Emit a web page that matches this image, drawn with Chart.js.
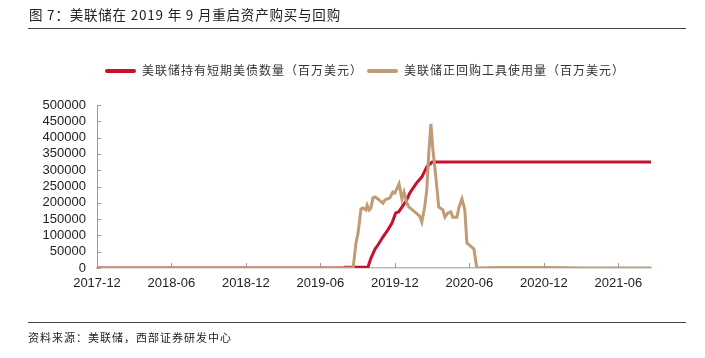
<!DOCTYPE html>
<html>
<head>
<meta charset="utf-8">
<script src="https://cdn.jsdelivr.net/npm/chart.js@4.4.1/dist/chart.umd.min.js"></script>
<style>
  html, body { margin:0; padding:0; background:#fff; }
  #wrap { position:relative; width:705px; height:358px; overflow:hidden; font-family:"Noto Sans CJK SC", sans-serif; }
  #title { position:absolute; left:29px; top:4px; font-size:13.5px; color:#222; white-space:nowrap; letter-spacing:0.8px; }
  .rule { position:absolute; left:28px; width:658px; height:0; border-top:1.5px solid #444; }
  #source { position:absolute; left:28px; top:329px; font-size:11px; color:#222; white-space:nowrap; letter-spacing:1px; }
  #legend { position:absolute; top:61px; left:0; width:705px; height:18px; }
  .li { position:absolute; top:0; white-space:nowrap; font-size:12px; color:#333; letter-spacing:1px; line-height:18px; }
  .sw { display:inline-block; width:31px; height:4px; border-radius:2px; vertical-align:middle; margin-right:6px; position:relative; top:-1px; }
  canvas { position:absolute; left:0; top:0; }
</style>
</head>
<body>
<div id="wrap">
  <canvas id="c" width="705" height="358"></canvas>
  <div id="title">图 7：美联储在 2019 年 9 月重启资产购买与回购</div>
  <div class="rule" style="top:28px"></div>
  <div id="legend"></div>
  <div class="rule" style="top:322px"></div>
  <div id="source">资料来源：美联储，西部证券研发中心</div>
</div>
<script>
// ---- data ----
const seriesNames = ['美联储持有短期美债数量（百万美元）', '美联储正回购工具使用量（百万美元）'];
const tickLabels = ['2017-12','2018-06','2018-12','2019-06','2019-12','2020-06','2020-12','2021-06'];

const billDates = ['2017-12-01','2019-07-26','2019-08-01','2019-09-26','2019-10-03','2019-10-13','2019-10-20','2019-11-02','2019-11-14','2019-11-24','2019-12-03','2019-12-10','2019-12-18','2019-12-28','2020-01-07','2020-01-24','2020-02-06','2020-02-18','2020-03-01','2021-08-20'];
const billValues = [0,0,2500,3000,30000,58000,70500,95000,117000,138000,169000,172000,187000,205000,230000,262000,279000,310000,325000,325000];

const repoDates = ['2017-12-01','2019-08-20','2019-08-27','2019-09-02','2019-09-09','2019-09-14','2019-09-21','2019-09-24','2019-09-29','2019-10-03','2019-10-08','2019-10-13','2019-10-20','2019-11-02','2019-11-07','2019-11-19','2019-11-26','2019-12-01','2019-12-11','2019-12-18','2019-12-23','2019-12-30','2020-01-05','2020-01-19','2020-02-01','2020-02-06','2020-02-13','2020-02-18','2020-02-23','2020-02-28','2020-03-03','2020-03-10','2020-03-17','2020-03-27','2020-04-02','2020-04-09','2020-04-16','2020-04-21','2020-05-01','2020-05-06','2020-05-13','2020-05-20','2020-05-25','2020-06-07','2020-06-12','2020-06-19','2020-08-10','2020-12-01','2021-02-01','2021-03-01','2021-08-20'];
const repoValues = [0,0,76700,107000,181000,184000,178000,193000,178000,184000,215000,218000,212000,199000,209000,215000,233000,230000,258000,212000,233000,199000,187000,172000,159000,141000,187000,239000,353000,442000,362000,279000,187000,178000,156000,169000,172000,156000,156000,187000,212000,178000,76700,64000,58000,0,1500,1500,500,0,0];

// ---- helpers ----
function monthIndex(s){ const [y,m,d]=s.split('-').map(Number); return (y-2017)*12+(m-12)+(d-1)/30; }
function toPoints(dates, vals){ return dates.map((d,i)=>({x:monthIndex(d), y:vals[i]})); }

const RED='#C8102E', TAN='#C29B74';
const colors=[RED,TAN];

// HTML legend
const legendPos=[105,367];
const lg=document.getElementById('legend');
seriesNames.forEach((n,i)=>{
  const el=document.createElement('div'); el.className='li'; el.style.left=legendPos[i]+'px';
  el.innerHTML='<span class="sw" style="background:'+colors[i]+'"></span>'+n;
  lg.appendChild(el);
});

const xMax = monthIndex(billDates[billDates.length-1]);

const innerTicks={
  id:'innerTicks',
  afterDraw(chart){
    const ctx=chart.ctx, xs=chart.scales.x, ys=chart.scales.y, a=chart.chartArea;
    ctx.save(); ctx.strokeStyle='#999'; ctx.lineWidth=1;
    ys.ticks.forEach((t,i)=>{ const p=Math.round(ys.getPixelForTick(i))+0.5; ctx.beginPath(); ctx.moveTo(a.left,p); ctx.lineTo(a.left+4,p); ctx.stroke(); });
    xs.ticks.forEach((t,i)=>{ const p=Math.round(xs.getPixelForTick(i))+0.5; ctx.beginPath(); ctx.moveTo(p,a.bottom); ctx.lineTo(p,a.bottom-5); ctx.stroke(); });
    ctx.restore();
  }
};

new Chart(document.getElementById('c'),{
  type:'line',
  data:{ datasets:[
    { label:seriesNames[0], data:toPoints(billDates,billValues), borderColor:RED, backgroundColor:RED, borderWidth:3, pointRadius:0, tension:0, order:1 },
    { label:seriesNames[1], data:toPoints(repoDates,repoValues), borderColor:TAN, backgroundColor:TAN, borderWidth:3, pointRadius:0, tension:0, order:0 }
  ]},
  options:{
    responsive:false, animation:false,
    layout:{ padding:{ left:0, right:54, top:105, bottom:60 } },
    plugins:{ legend:{display:false}, tooltip:{enabled:false} },
    scales:{
      x:{ type:'linear', min:0, max:xMax,
        afterBuildTicks(s){ s.ticks=tickLabels.map((_,i)=>({value:i*6})); },
        afterFit(s){ s.height=30; },
        grid:{ display:false, drawTicks:false },
        border:{ display:true, color:'#BBBBBB', width:1.5 },
        ticks:{ padding:8, maxRotation:0, autoSkip:false, color:'#222', font:{family:'"Liberation Sans", Arial, sans-serif', size:13},
          callback:(v)=>tickLabels[Math.round(v/6)] }
      },
      y:{ min:0, max:500000,
        afterFit(s){ s.width=97; },
        grid:{ display:false, drawTicks:false },
        border:{ display:true, color:'#999999', width:1 },
        ticks:{ stepSize:50000, autoSkip:false, padding:11, color:'#222', font:{family:'"Liberation Sans", Arial, sans-serif', size:13},
          callback:(v)=>String(v) }
      }
    }
  },
  plugins:[innerTicks]
});
</script>
</body>
</html>
